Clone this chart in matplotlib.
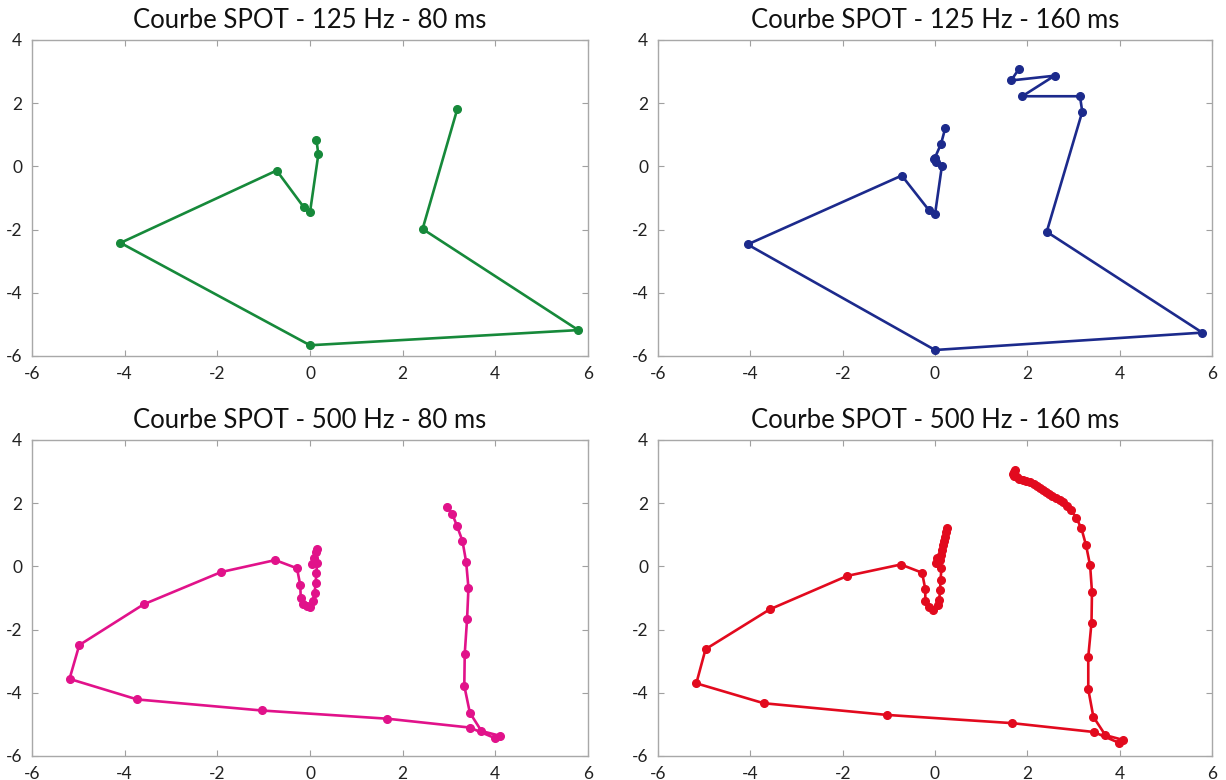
import matplotlib
matplotlib.use("Agg")
import matplotlib.pyplot as plt

plt.rcParams['font.family'] = ['Lato', 'DejaVu Sans']
plt.rcParams['axes.unicode_minus'] = False

# 125 Hz - 80 ms
x_125_80 = [0.14, 0.18, 0.0, -0.14, -0.72, -4.09, 0.0, 5.79, 2.43, 3.18]
y_125_80 = [0.83, 0.38, -1.45, -1.28, -0.13, -2.42, -5.66, -5.18, -1.98, 1.82]

# 125 Hz - 160 ms
x_125_160 = [0.22, 0.13, 0.0, -0.03, 0.03, 0.15, 0.0, -0.14, -0.72, -4.06, 0.0, 5.79,
             2.42, 3.19, 3.14, 1.89, 2.59, 1.65, 1.82]
y_125_160 = [1.2, 0.71, 0.28, 0.22, 0.14, 0.02, -1.52, -1.37, -0.29, -2.47, -5.81, -5.26,
             -2.07, 1.73, 2.22, 2.22, 2.87, 2.72, 3.09]

# 500 Hz - 80 ms
x_500_80 = [0.15, 0.13, 0.09, 0.04, 0.15, 0.14, 0.12, 0.10, 0.06, 0.0, -0.07, -0.16,
            -0.20, -0.21, -0.28, -0.75, -1.92, -3.59, -4.98, -5.19, -3.73, -1.04, 1.67,
            3.45, 4.0, 4.1, 3.70, 3.45, 3.33, 3.34, 3.39, 3.42, 3.37, 3.29, 3.17, 3.07, 2.96]
y_500_80 = [0.56, 0.45, 0.27, 0.08, 0.12, -0.2, -0.53, -0.84, -1.09, -1.28, -1.26, -1.18,
            -0.99, -0.6, -0.06, 0.2, -0.18, -1.2, -2.49, -3.56, -4.21, -4.56, -4.82,
            -5.1, -5.44, -5.36, -5.21, -4.63, -3.78, -2.76, -1.67, -0.68, 0.14, 0.81, 1.29, 1.66, 1.89]

# 500 Hz - 160 ms
x_500_160 = [0.25, 0.23, 0.21, 0.19, 0.18, 0.16, 0.14, 0.04, 0.02, 0.10, 0.14, 0.12, 0.11,
             0.09, 0.07, -0.04, -0.14, -0.21, -0.21, -0.28, -0.74, -1.9, -3.58, -4.97,
             -5.17, -3.71, -1.04, 1.67, 3.44, 3.98, 4.07, 3.69, 3.43, 3.32, 3.32, 3.39,
             3.40, 3.36, 3.27, 3.17, 3.06, 2.95, 2.86, 2.78, 2.70, 2.62, 2.54, 2.47, 2.40,
             2.33, 2.27, 2.21, 2.14, 2.06, 1.98, 1.90, 1.83, 1.77, 1.72, 1.70, 1.71, 1.73]
y_500_160 = [1.21, 1.08, 0.94, 0.8, 0.68, 0.52, 0.36, 0.26, 0.12, 0.2, -0.06, -0.43, -0.75,
             -1.06, -1.22, -1.38, -1.29, -1.09, -0.72, -0.2, 0.06, -0.3, -1.36, -2.62,
             -3.7, -4.33, -4.7, -4.96, -5.24, -5.58, -5.49, -5.34, -4.76, -3.89, -2.86, -1.78,
             -0.8, 0.03, 0.68, 1.21, 1.53, 1.79, 1.92, 2.03, 2.09, 2.15, 2.22, 2.28, 2.35,
             2.42, 2.49, 2.55, 2.61, 2.66, 2.7, 2.74, 2.78, 2.82, 2.87, 2.93, 2.99, 3.06]

titles = ["Courbe SPOT - 125 Hz - 80 ms", "Courbe SPOT - 125 Hz - 160 ms",
          "Courbe SPOT - 500 Hz - 80 ms", "Courbe SPOT - 500 Hz - 160 ms"]
series = [(x_125_80, y_125_80), (x_125_160, y_125_160),
          (x_500_80, y_500_80), (x_500_160, y_500_160)]
couleurs = ["#16893a", "#1c2a8c", "#e1128a", "#e20a1e"]

fig = plt.figure(figsize=(12.26, 7.8), dpi=100)
positions = [
    [32 / 1226, 1 - 356 / 780, 556 / 1226, 316 / 780],
    [658 / 1226, 1 - 356 / 780, 554 / 1226, 316 / 780],
    [32 / 1226, 1 - 756 / 780, 556 / 1226, 316 / 780],
    [658 / 1226, 1 - 756 / 780, 554 / 1226, 316 / 780],
]

for pos, titre, (xs, ys), c in zip(positions, titles, series, couleurs):
    ax = fig.add_axes(pos)
    ax.plot(xs, ys, color=c, lw=1.9, marker="o", markersize=5.5)
    ax.set_xlim(-6, 6)
    ax.set_ylim(-6, 4)
    ax.set_xticks([-6, -4, -2, 0, 2, 4, 6])
    ax.set_yticks([-6, -4, -2, 0, 2, 4])
    ax.tick_params(direction="in", length=4, width=0.8, color="#a0a0a0",
                   top=True, right=True, labelsize=12.5, labelcolor="#222222", pad=7)
    for s in ax.spines.values():
        s.set_color("#a8a8a8")
        s.set_linewidth(1.0)
    ax.set_title(titre, fontsize=18.5, color="#111111", pad=9)

plt.savefig("out.png", dpi=100)
